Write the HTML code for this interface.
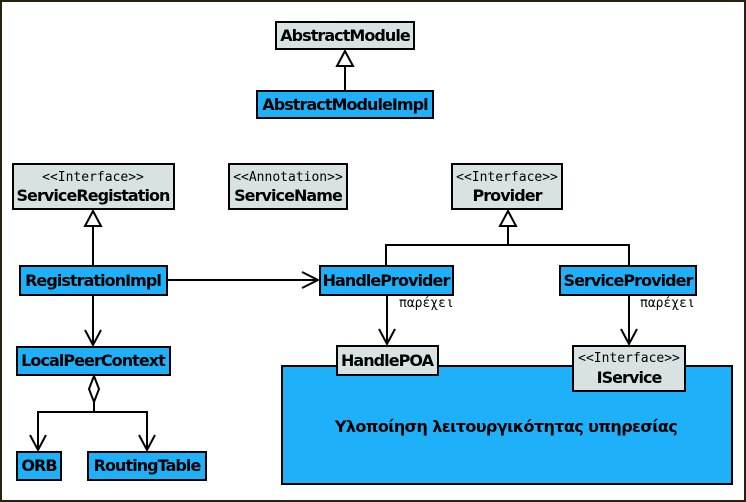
<!DOCTYPE html>
<html><head><meta charset="utf-8"><style>
body{margin:0;background:#fff}
svg{display:block}
.b{font-family:"DejaVu Sans","Liberation Sans",sans-serif;font-weight:bold;font-size:16px;letter-spacing:-0.95px;fill:#000}
.m{font-family:"DejaVu Sans Mono","Liberation Mono",monospace;font-size:13px;fill:#000}
.g{fill:#d8e2e2;stroke:#000;stroke-width:2}
.c{fill:#1eb0f8;stroke:#000;stroke-width:2}
.l{stroke:#000;stroke-width:2;fill:none}
</style></head><body>
<svg width="746" height="502" viewBox="0 0 746 502" xmlns="http://www.w3.org/2000/svg">
<rect x="1" y="1" width="744" height="500" fill="#fff" stroke="#2a2010" stroke-width="2"/>
<rect class="c" x="282" y="366" width="450" height="118"/>
<text class="b" x="506" y="432" text-anchor="middle" style="letter-spacing:-0.6px">Υλοποίηση λειτουργικότητας υπηρεσίας</text>

<rect class="g" x="276" y="22" width="138" height="27"/>
<text class="b" x="345" y="41" text-anchor="middle">AbstractModule</text>
<rect class="c" x="257" y="91" width="176" height="27"/>
<text class="b" x="345" y="110" text-anchor="middle">AbstractModuleImpl</text>
<line class="l" x1="345" y1="66" x2="345" y2="91"/>
<polygon points="345,51 337,66 353,66" fill="#fff" stroke="#000" stroke-width="2"/>

<rect class="g" x="13" y="164" width="161" height="45"/>
<text class="m" x="93" y="181" text-anchor="middle">&lt;&lt;Interface&gt;&gt;</text>
<text class="b" x="93" y="201" text-anchor="middle">ServiceRegistation</text>
<rect class="g" x="229" y="164" width="118" height="45"/>
<text class="m" x="288" y="181" text-anchor="middle">&lt;&lt;Annotation&gt;&gt;</text>
<text class="b" x="288" y="201" text-anchor="middle">ServiceName</text>
<rect class="g" x="452" y="164" width="110" height="45"/>
<text class="m" x="507" y="181" text-anchor="middle">&lt;&lt;Interface&gt;&gt;</text>
<text class="b" x="507" y="201" text-anchor="middle">Provider</text>

<line class="l" x1="93" y1="226" x2="93" y2="266"/>
<polygon points="93,211 85,226 101,226" fill="#fff" stroke="#000" stroke-width="2"/>
<line class="l" x1="508" y1="226" x2="508" y2="245"/>
<polygon points="508,211 500,226 516,226" fill="#fff" stroke="#000" stroke-width="2"/>
<polyline class="l" points="386,266 386,245 629,245 629,266"/>

<rect class="c" x="20" y="266" width="147" height="29"/>
<text class="b" x="93" y="286" text-anchor="middle">RegistrationImpl</text>
<rect class="c" x="320" y="266" width="133" height="29"/>
<text class="b" x="386" y="286" text-anchor="middle">HandleProvider</text>
<rect class="c" x="560" y="266" width="136" height="29"/>
<text class="b" x="628" y="286" text-anchor="middle">ServiceProvider</text>

<line class="l" x1="167" y1="280" x2="318" y2="280"/>
<polyline class="l" points="302,272 318,280 302,288"/>
<line class="l" x1="93" y1="295" x2="93" y2="345"/>
<polyline class="l" points="85,330 93,345 101,330"/>

<line class="l" x1="387" y1="295" x2="387" y2="344"/>
<polyline class="l" points="379,329 387,344 395,329"/>
<text class="m" x="399" y="307">παρέχει</text>
<line class="l" x1="629" y1="295" x2="629" y2="344"/>
<polyline class="l" points="621,329 629,344 637,329"/>
<text class="m" x="640" y="307">παρέχει</text>

<rect class="g" x="337" y="346" width="101" height="29"/>
<text class="b" x="387" y="366" text-anchor="middle">HandlePOA</text>
<rect class="g" x="573" y="346" width="112" height="45"/>
<text class="m" x="629" y="362" text-anchor="middle">&lt;&lt;Interface&gt;&gt;</text>
<text class="b" x="629" y="383" text-anchor="middle">IService</text>

<rect class="c" x="17" y="347" width="153" height="28"/>
<text class="b" x="93" y="366" text-anchor="middle">LocalPeerContext</text>
<polygon points="94,376 89,389 94,402 99,389" fill="#fff" stroke="#000" stroke-width="2"/>
<polyline class="l" points="94,402 94,412 38,412 38,450"/>
<polyline class="l" points="94,412 147,412 147,450"/>
<polyline class="l" points="30,435 38,450 46,435"/>
<polyline class="l" points="139,435 147,450 155,435"/>

<rect class="c" x="17" y="452" width="44" height="28"/>
<text class="b" x="39" y="471" text-anchor="middle">ORB</text>
<rect class="c" x="88" y="452" width="118" height="28"/>
<text class="b" x="147" y="471" text-anchor="middle">RoutingTable</text>
</svg>
</body></html>
